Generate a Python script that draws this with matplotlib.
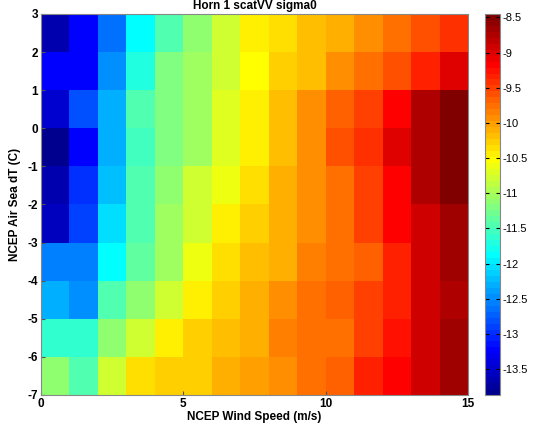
import matplotlib.pyplot as plt
import numpy as np
from matplotlib.colors import ListedColormap

plt.rcParams['font.family'] = ['Liberation Sans', 'DejaVu Sans']
plt.rcParams['axes.unicode_minus'] = False

# bin edges
wind_edges = np.arange(0, 16)
dt_edges = np.arange(-7, 4)

# mean sigma0 per bin, rows go from dT = -7 (bottom) up to dT = 3 (top)
row_m7 = [-11.10, -11.43, -10.75, -10.35, -10.30, -10.28, -10.10, -10.05, -9.94, -9.74, -9.67, -9.30, -9.13, -8.89, -8.62]
row_m6 = [-11.62, -11.62, -11.10, -10.75, -10.48, -10.28, -10.21, -10.08, -9.87, -9.80, -9.74, -9.48, -9.26, -8.94, -8.67]
row_m5 = [-12.30, -12.46, -11.48, -11.10, -10.75, -10.48, -10.28, -10.14, -9.97, -9.80, -9.67, -9.55, -9.32, -8.94, -8.72]
row_m4 = [-12.57, -12.57, -11.84, -11.37, -11.02, -10.62, -10.35, -10.21, -10.08, -9.87, -9.74, -9.65, -9.32, -8.94, -8.67]
row_m3 = [-13.54, -12.92, -12.05, -11.43, -11.02, -10.75, -10.48, -10.28, -10.08, -9.97, -9.80, -9.53, -9.18, -8.89, -8.67]
row_m2 = [-13.65, -13.00, -12.19, -11.43, -11.10, -10.82, -10.65, -10.35, -10.10, -9.94, -9.74, -9.53, -9.13, -8.78, -8.45]
row_m1 = [-13.85, -13.27, -12.30, -11.54, -11.20, -11.02, -10.69, -10.48, -10.21, -9.94, -9.60, -9.40, -8.99, -8.78, -8.45]
row_0 = [-13.49, -12.84, -12.30, -11.48, -11.16, -11.02, -10.69, -10.48, -10.21, -9.94, -9.67, -9.48, -9.13, -8.78, -8.53]
row_1 = [-13.22, -13.22, -12.46, -11.70, -11.20, -11.02, -10.75, -10.54, -10.30, -10.19, -9.94, -9.80, -9.59, -9.32, -8.99]
row_2 = [-13.70, -13.27, -12.65, -11.84, -11.48, -11.10, -10.75, -10.48, -10.35, -10.21, -10.08, -9.94, -9.80, -9.59, -9.40]

sigma0 = np.array([row_m7, row_m6, row_m5, row_m4, row_m3,
                   row_m2, row_m1, row_0, row_1, row_2])


def matlab_jet(m=64):
    # same construction as MATLAB's jet(m)
    n = int(np.ceil(m / 4))
    u = np.concatenate([np.arange(1, n + 1) / n, np.ones(n - 1), np.arange(n, 0, -1) / n])
    g = int(np.ceil(n / 2)) - (1 if m % 4 == 1 else 0) + np.arange(1, len(u) + 1)
    r = g + n
    b = g - n
    rgb = np.zeros((m, 3))
    for ch, idx in ((0, r), (1, g), (2, b)):
        keep = (idx >= 1) & (idx <= m)
        rgb[idx[keep] - 1, ch] = u[keep]
    return ListedColormap(rgb)


fig = plt.figure(figsize=(5.35, 4.25), dpi=100)
ax = fig.add_axes([0.0766, 0.0706, 0.7982, 0.8965])
cax = fig.add_axes([0.9065, 0.0706, 0.0281, 0.8965])

mesh = ax.pcolormesh(wind_edges, dt_edges, sigma0, cmap=matlab_jet(),
                     vmin=-13.87, vmax=-8.45, shading='flat')

ax.set_xlim(0, 15)
ax.set_ylim(-7, 3)
ax.set_xticks([0, 5, 10, 15])
ax.set_yticks(np.arange(-7, 4))
ax.tick_params(direction='in', length=3, labelsize=8.5, pad=2, color='#555555')
for lbl in ax.get_xticklabels() + ax.get_yticklabels():
    lbl.set_fontweight('bold')
for sp in ax.spines.values():
    sp.set_color('#888888')
    sp.set_linewidth(0.8)

ax.set_xlabel('NCEP Wind Speed (m/s)', fontsize=8.5, fontweight='bold', labelpad=1)
ax.set_ylabel('NCEP Air Sea dT (C)', fontsize=8.5, fontweight='bold', labelpad=5)
ax.set_title('Horn 1 scatVV sigma0', fontsize=8.5, fontweight='bold', pad=3.5)

cb = fig.colorbar(mesh, cax=cax)
cb.set_ticks(np.arange(-13.5, -8.4, 0.5))
cb.set_ticklabels(['-13.5', '-13', '-12.5', '-12', '-11.5', '-11',
                   '-10.5', '-10', '-9.5', '-9', '-8.5'])
cax.tick_params(direction='in', length=3, labelsize=8, pad=2, right=True, left=True)
cb.outline.set_edgecolor('#888888')
cb.outline.set_linewidth(0.8)

fig.savefig('out.png', dpi=100)
